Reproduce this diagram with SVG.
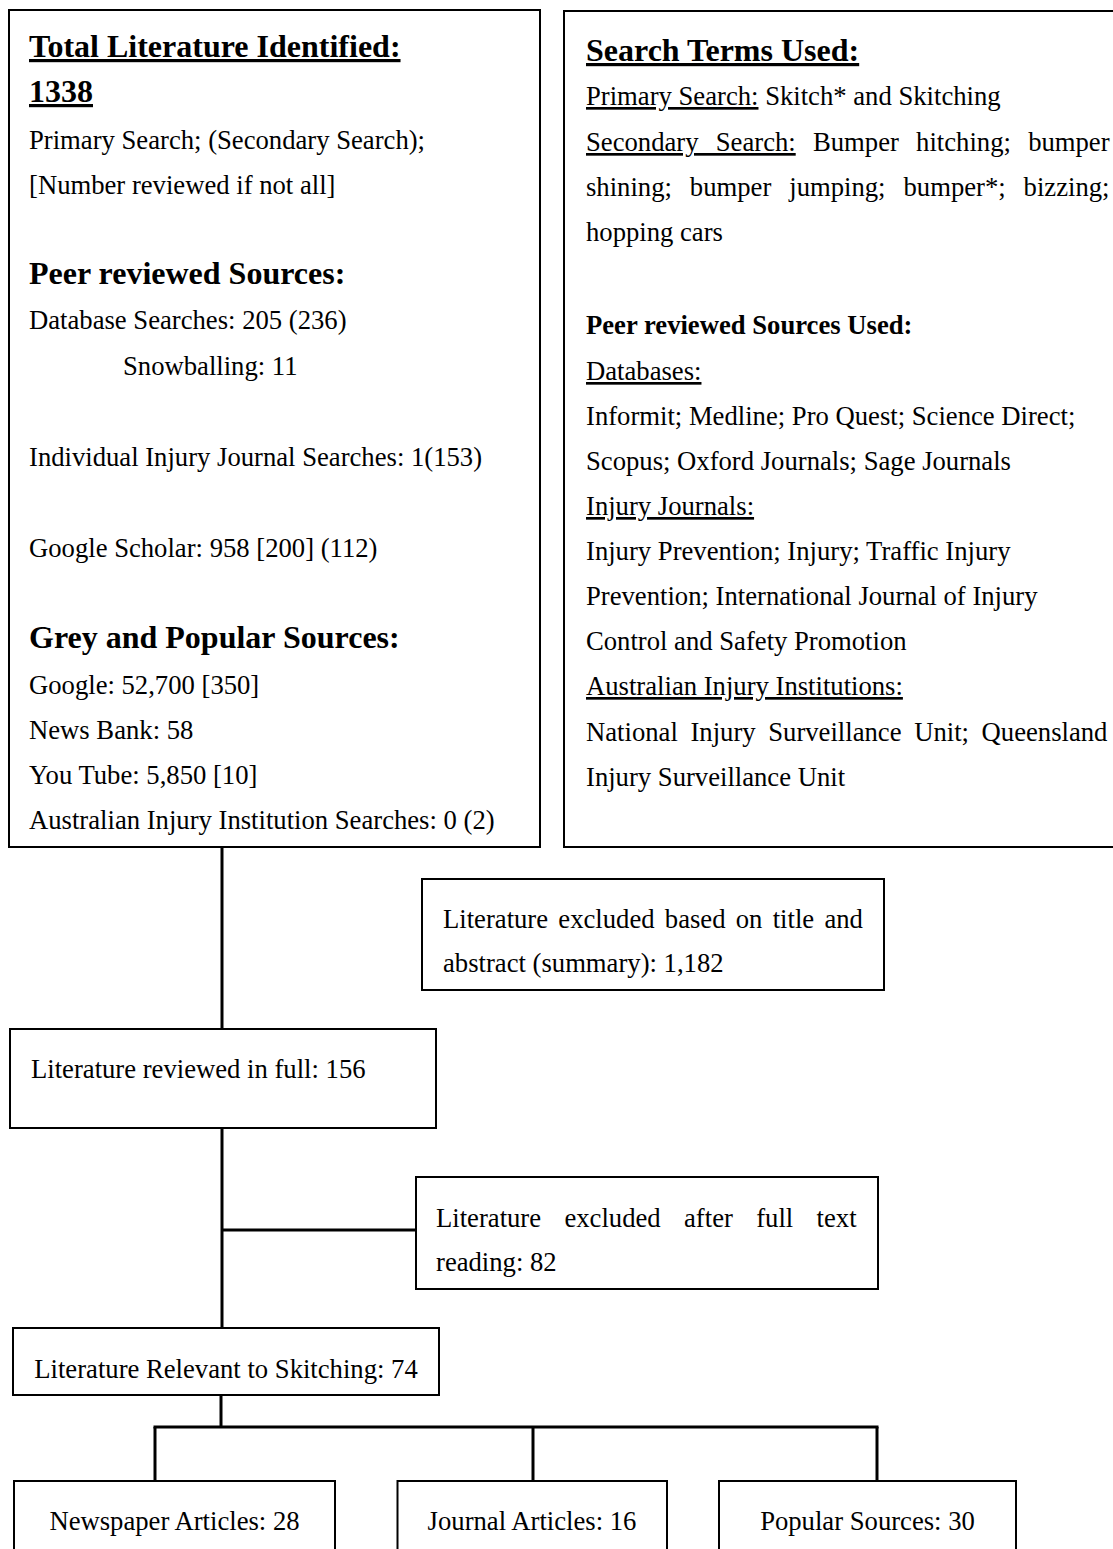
<svg xmlns="http://www.w3.org/2000/svg" width="1113" height="1549" viewBox="0 0 1113 1549">
<style>
text{font-family:"Liberation Serif","Times New Roman",serif;font-size:26.67px;fill:#000}
.h{font-weight:bold;font-size:32px}
.b{font-weight:bold}
.u{text-decoration:underline}
.box{fill:#fff;stroke:#000;stroke-width:2}
.c{stroke:#000;stroke-width:3;fill:none}
.m{text-anchor:middle}
</style>
<rect width="1113" height="1549" fill="#fff"/>
<g id="connectors">
<line class="c" x1="222" y1="847" x2="222" y2="1029"/>
<line class="c" x1="222" y1="1128" x2="222" y2="1328"/>
<line class="c" x1="222" y1="1230" x2="416" y2="1230"/>
<line class="c" x1="221" y1="1395" x2="221" y2="1427"/>
<line class="c" x1="153.5" y1="1427" x2="878.5" y2="1427"/>
<line class="c" x1="155" y1="1427" x2="155" y2="1481"/>
<line class="c" x1="533" y1="1427" x2="533" y2="1481"/>
<line class="c" x1="877" y1="1427" x2="877" y2="1481"/>
</g>
<g id="total-literature">
<rect class="box" x="9" y="10" width="531" height="837"/>
<text class="h u" x="29" y="57">Total Literature Identified:</text>
<text class="h u" x="29" y="102">1338</text>
<text x="29" y="149">Primary Search; (Secondary Search);</text>
<text x="29" y="194">[Number reviewed if not all]</text>
<text class="h" x="29" y="284">Peer reviewed Sources:</text>
<text x="29" y="329">Database Searches: 205 (236)</text>
<text x="123" y="375">Snowballing: 11</text>
<text x="29" y="466">Individual Injury Journal Searches: 1(153)</text>
<text x="29" y="557">Google Scholar: 958 [200] (112)</text>
<text class="h" x="29" y="648">Grey and Popular Sources:</text>
<text x="29" y="694">Google: 52,700 [350]</text>
<text x="29" y="739">News Bank: 58</text>
<text x="29" y="784">You Tube: 5,850 [10]</text>
<text x="29" y="829">Australian Injury Institution Searches: 0 (2)</text>
</g>
<g id="search-terms">
<rect class="box" x="564" y="11" width="560" height="836"/>
<text class="h u" x="586" y="61">Search Terms Used:</text>
<text x="586" y="105"><tspan class="u">Primary Search:</tspan> Skitch* and Skitching</text>
<text x="586" y="151" word-spacing="10.6"><tspan class="u">Secondary Search:</tspan> Bumper hitching; bumper</text>
<text x="586" y="196" word-spacing="11.3">shining; bumper jumping; bumper*; bizzing;</text>
<text x="586" y="241">hopping cars</text>
<text class="b" x="586" y="334">Peer reviewed Sources Used:</text>
<text class="u" x="586" y="380">Databases:</text>
<text x="586" y="425">Informit; Medline; Pro Quest; Science Direct;</text>
<text x="586" y="470">Scopus; Oxford Journals; Sage Journals</text>
<text class="u" x="586" y="515">Injury Journals:</text>
<text x="586" y="560">Injury Prevention; Injury; Traffic Injury</text>
<text x="586" y="605">Prevention; International Journal of Injury</text>
<text x="586" y="650">Control and Safety Promotion</text>
<text class="u" x="586" y="695">Australian Injury Institutions:</text>
<text x="586" y="741" word-spacing="6">National Injury Surveillance Unit; Queensland</text>
<text x="586" y="786">Injury Surveillance Unit</text>
</g>
<g id="excluded-title-abstract">
<rect class="box" x="422" y="879" width="462" height="111"/>
<text x="443" y="928" word-spacing="3.6">Literature excluded based on title and</text>
<text x="443" y="972">abstract (summary): 1,182</text>
</g>
<g id="reviewed-full">
<rect class="box" x="10" y="1029" width="426" height="99"/>
<text x="31" y="1078">Literature reviewed in full: 156</text>
</g>
<g id="excluded-full-text">
<rect class="box" x="416" y="1177" width="462" height="112"/>
<text x="436" y="1227" word-spacing="16.7">Literature excluded after full text</text>
<text x="436" y="1271">reading: 82</text>
</g>
<g id="relevant">
<rect class="box" x="13" y="1328" width="426" height="67"/>
<text class="m" x="226" y="1378">Literature Relevant to Skitching: 74</text>
</g>
<g id="newspaper">
<rect class="box" x="14" y="1481" width="321" height="90"/>
<text class="m" x="174.5" y="1530">Newspaper Articles: 28</text>
</g>
<g id="journal">
<rect class="box" x="397.5" y="1481" width="269.5" height="90"/>
<text class="m" x="532" y="1530">Journal Articles: 16</text>
</g>
<g id="popular">
<rect class="box" x="719" y="1481" width="297" height="90"/>
<text class="m" x="867.5" y="1530">Popular Sources: 30</text>
</g>
</svg>
